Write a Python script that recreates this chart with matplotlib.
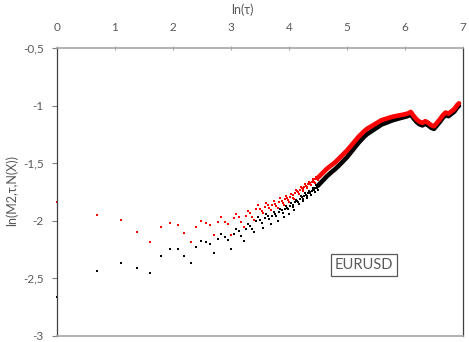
import numpy as np
import matplotlib
matplotlib.use("Agg")
import matplotlib.pyplot as plt

plt.rcParams['font.family'] = ['Lato', 'DejaVu Sans']

# ---- data ----
tau_sparse = list(range(1, 91))
red_sparse = [-1.834, -1.947, -1.990, -2.095, -2.181, -2.051, -2.016, -2.034, -2.103, -2.181,
              -2.051, -2.002, -2.022, -2.039, -2.126, -2.014, -1.967, -2.008, -2.028, -2.120,
              -1.979, -1.944, -1.970, -2.013, -2.051, -1.958, -1.912, -1.930, -1.970, -1.993,
              -1.900, -1.863, -1.895, -1.915, -1.935, -1.880, -1.845, -1.865, -1.890, -1.910,
              -1.860, -1.830, -1.850, -1.870, -1.890, -1.835, -1.805, -1.825, -1.845, -1.865,
              -1.810, -1.785, -1.800, -1.820, -1.840, -1.790, -1.765, -1.780, -1.800, -1.815,
              -1.761, -1.736, -1.745, -1.754, -1.764, -1.734, -1.708, -1.718, -1.728, -1.738,
              -1.708, -1.683, -1.694, -1.704, -1.714, -1.684, -1.660, -1.670, -1.681, -1.691,
              -1.662, -1.638, -1.648, -1.659, -1.670, -1.641, -1.617, -1.628, -1.639, -1.650]
black_sparse = [-2.661, -2.433, -2.366, -2.410, -2.453, -2.303, -2.248, -2.248, -2.308, -2.366,
                -2.230, -2.172, -2.187, -2.199, -2.280, -2.161, -2.112, -2.143, -2.167, -2.248,
                -2.112, -2.068, -2.089, -2.132, -2.172, -2.074, -2.030, -2.042, -2.074, -2.100,
                -2.002, -1.964, -1.995, -2.015, -2.060, -1.980, -1.945, -1.960, -1.985, -2.030,
                -1.955, -1.925, -1.945, -1.960, -2.000, -1.925, -1.895, -1.910, -1.930, -1.970,
                -1.895, -1.870, -1.885, -1.900, -1.940, -1.870, -1.845, -1.860, -1.880, -1.910,
                -1.841, -1.816, -1.825, -1.836, -1.852, -1.812, -1.788, -1.797, -1.808, -1.825,
                -1.786, -1.762, -1.772, -1.783, -1.800, -1.760, -1.737, -1.747, -1.758, -1.775,
                -1.737, -1.714, -1.723, -1.734, -1.752, -1.714, -1.692, -1.702, -1.713, -1.730]

ln_tau_dense = [4.50, 4.55,
                4.60, 4.65, 4.70, 4.75, 4.80, 4.85, 4.90, 4.95, 5.00, 5.05,
                5.10, 5.15, 5.20, 5.25, 5.30, 5.35, 5.40, 5.45, 5.50, 5.55,
                5.60, 5.65, 5.70, 5.75, 5.80, 5.85, 5.90, 5.95, 6.00, 6.05,
                6.10, 6.15, 6.20, 6.25, 6.30, 6.35, 6.40, 6.45, 6.50, 6.55,
                6.60, 6.65, 6.70, 6.75, 6.80, 6.85, 6.90, 6.93]
red_dense = [-1.625, -1.600,
             -1.575, -1.550, -1.530, -1.510, -1.490, -1.465, -1.440, -1.415, -1.390, -1.360,
             -1.330, -1.300, -1.270, -1.245, -1.220, -1.200, -1.185, -1.170, -1.155, -1.140,
             -1.125, -1.118, -1.110, -1.102, -1.095, -1.090, -1.085, -1.080, -1.075, -1.068,
             -1.055, -1.090, -1.120, -1.140, -1.150, -1.135, -1.150, -1.170, -1.180, -1.150,
             -1.120, -1.085, -1.060, -1.070, -1.050, -1.030, -0.995, -0.980]
black_dense = [-1.695, -1.668,
               -1.642, -1.615, -1.592, -1.570, -1.550, -1.525, -1.500, -1.474, -1.448, -1.416,
               -1.385, -1.353, -1.322, -1.295, -1.268, -1.246, -1.230, -1.213, -1.196, -1.180,
               -1.163, -1.154, -1.144, -1.134, -1.125, -1.118, -1.111, -1.104, -1.098, -1.090,
               -1.078, -1.112, -1.142, -1.162, -1.172, -1.157, -1.172, -1.192, -1.202, -1.172,
               -1.142, -1.107, -1.082, -1.092, -1.072, -1.052, -1.017, -1.002]

x_ticks = [0, 1, 2, 3, 4, 5, 6, 7]
y_ticks = [-3, -2.5, -2, -1.5, -1, -0.5]
y_tick_labels = ['-3', '-2,5', '-2', '-1,5', '-1', '-0,5']

# ---- figure ----
W, H = 469, 342
fig = plt.figure(figsize=(W / 100, H / 100), dpi=100)
ax = fig.add_axes([57 / W, 1 - 336 / H, (463 - 57) / W, (336 - 48) / H])

x_sparse = np.log(np.array(tau_sparse, dtype=float))
xd = np.array(ln_tau_dense)

ax.plot(x_sparse, black_sparse, ls='none', marker='s', ms=1.7, color='black', mew=0, clip_on=False)
ax.plot(xd, black_dense, ls='-', lw=3.3, color='black', solid_capstyle='round')
ax.plot(x_sparse, red_sparse, ls='none', marker='s', ms=1.7, color='#ff0000', mew=0, clip_on=False)
ax.plot(xd, red_dense, ls='-', lw=3.3, color='#ff0000', solid_capstyle='round')

ax.set_xlim(0, 7)
ax.set_ylim(-3, -0.5)
ax.set_xticks(x_ticks)
ax.set_yticks(y_ticks)
ax.set_yticklabels(y_tick_labels)

ax.xaxis.tick_top()
ax.tick_params(axis='x', direction='inout', length=3, width=0.8, color='#a6a6a6',
               labelcolor='#595959', labelsize=8.5, pad=9)
ax.tick_params(axis='y', direction='out', length=3.6, width=0.8, color='#808080',
               labelcolor='#595959', labelsize=8.5, pad=6)

for s in ['top', 'bottom']:
    ax.spines[s].set_color('#a6a6a6')
    ax.spines[s].set_linewidth(1.2)
for s in ['left', 'right']:
    ax.spines[s].set_color('#404040')
    ax.spines[s].set_linewidth(0.9)

fig.text(242 / W, 1 - 10 / H, 'ln(τ)', ha='center', va='center', color='#595959', fontsize=9)
fig.text(12 / W, 1 - 191 / H, 'ln(M2,τ,N(X))', ha='center', va='center', rotation=90,
         color='#595959', fontsize=9)

ax.text(5.29, -2.384, 'EURUSD', ha='center', va='center', color='#595959', fontsize=10.5,
        bbox=dict(boxstyle='square,pad=0.25', fc='white', ec='#595959', lw=0.9))

fig.savefig('out.png', dpi=100)
